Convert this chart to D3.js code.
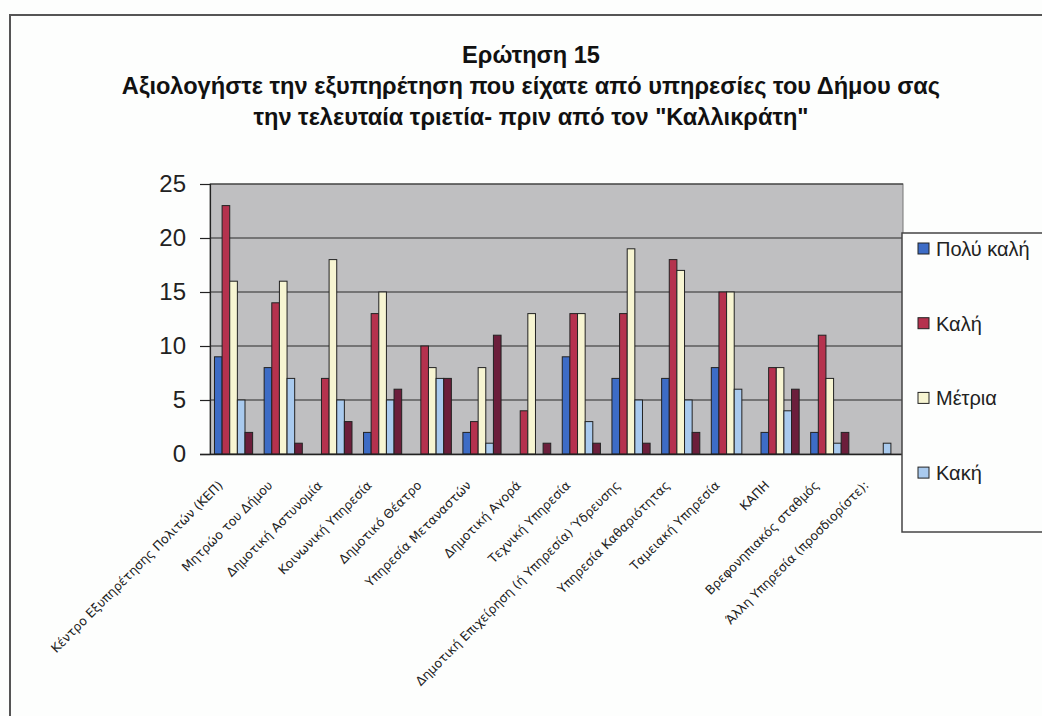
<!DOCTYPE html>
<html>
<head>
<meta charset="utf-8">
<script src="https://cdn.jsdelivr.net/npm/d3@7"></script>
<style>
  html, body { margin: 0; padding: 0; background: #fdfefd; }
  svg { display: block; }
</style>
</head>
<body>
<svg id="chart" width="1042" height="716"></svg>
<script>
const titleLines = [
  "Ερώτηση 15",
  "Αξιολογήστε την εξυπηρέτηση που είχατε από υπηρεσίες του Δήμου σας",
  "την τελευταία τριετία- πριν από τον \"Καλλικράτη\""
];
const categories = [
  "Κέντρο Εξυπηρέτησης Πολιτών (ΚΕΠ)",
  "Μητρώο του Δήμου",
  "Δημοτική Αστυνομία",
  "Κοινωνική Υπηρεσία",
  "Δημοτικό Θέατρο",
  "Υπηρεσία Μεταναστών",
  "Δημοτική Αγορά",
  "Τεχνική Υπηρεσία",
  "Δημοτική Επιχείρηση (ή Υπηρεσία) Ύδρευσης",
  "Υπηρεσία Καθαριότητας",
  "Ταμειακή Υπηρεσία",
  "ΚΑΠΗ",
  "Βρεφονηπιακός σταθμός",
  "Άλλη Υπηρεσία (προσδιορίστε):"
];
const seriesNames = ["Πολύ καλή", "Καλή", "Μέτρια", "Κακή", "Πολύ κακή"];
const polyKali  = [9, 8, 0, 2, 0, 2, 0, 9, 7, 7, 8, 2, 2, 0];
const kali      = [23, 14, 7, 13, 10, 3, 4, 13, 13, 18, 15, 8, 11, 0];
const metria    = [16, 16, 18, 15, 8, 8, 13, 13, 19, 17, 15, 8, 7, 0];
const kaki      = [5, 7, 5, 5, 7, 1, 0, 3, 5, 5, 6, 4, 1, 1];
const polyKaki  = [2, 1, 3, 6, 7, 11, 1, 1, 1, 2, 0, 6, 2, 0];
const yTicks = [0, 5, 10, 15, 20, 25];
const seriesValues = [polyKali, kali, metria, kaki, polyKaki];
const colors = ["#3d6cc6", "#b5324e", "#f7f5d2", "#a9caee", "#6c1e3b"];

const svg = d3.select("#chart");
const font = "'Liberation Sans', Arial, sans-serif";

// outer frame
svg.append("path")
  .attr("d", "M10,716 L10,15 L1042,15")
  .attr("fill", "none").attr("stroke", "#555").attr("stroke-width", 2);

// title
const tY = [63, 94, 125];
svg.append("g").selectAll("text").data(titleLines).join("text")
  .attr("x", 531).attr("y", (d, i) => tY[i])
  .attr("text-anchor", "middle")
  .attr("font-family", font).attr("font-weight", "bold")
  .attr("font-size", "23.6px").attr("fill", "#111")
  .text(d => d);

const plot = { left: 210, right: 903, top: 184, bottom: 454 };
const x = d3.scaleBand().domain(categories).range([plot.left, plot.right])
  .paddingInner(0.232).paddingOuter(0.09);
const xs = d3.scaleBand().domain(d3.range(seriesNames.length)).range([0, x.bandwidth()]);
const y = d3.scaleLinear().domain([0, 25]).range([plot.bottom, plot.top]);

// plot background
svg.append("rect")
  .attr("x", plot.left).attr("y", plot.top)
  .attr("width", plot.right - plot.left).attr("height", plot.bottom - plot.top)
  .attr("fill", "#bfbfc1").attr("stroke", "#777").attr("stroke-width", 1);

// gridlines
svg.append("g").selectAll("line").data(yTicks.filter(d => d > 0)).join("line")
  .attr("x1", plot.left).attr("x2", plot.right)
  .attr("y1", d => y(d)).attr("y2", d => y(d))
  .attr("stroke", "#2a2a2a").attr("stroke-width", 1.2);

// y axis
const yAxis = d3.axisLeft(y).tickValues(yTicks).tickSize(10).tickPadding(14).tickFormat(d3.format("d"));
const gy = svg.append("g").attr("transform", `translate(${plot.left},0)`).call(yAxis);
gy.select(".domain").attr("stroke", "#222").attr("stroke-width", 1.2);
gy.selectAll(".tick line").attr("stroke", "#222").attr("stroke-width", 1.2);
gy.selectAll(".tick text").attr("font-family", font).attr("font-size", "24px").attr("fill", "#222");

// bars
const groups = svg.append("g").selectAll("g").data(categories).join("g")
  .attr("transform", d => `translate(${x(d)},0)`);
groups.selectAll("rect")
  .data((c, ci) => seriesValues.map((vals, si) => ({ si, v: vals[ci] })))
  .join("rect")
  .filter(d => d.v > 0)
  .attr("x", d => xs(d.si)).attr("width", xs.bandwidth())
  .attr("y", d => y(d.v)).attr("height", d => y(0) - y(d.v))
  .attr("fill", d => colors[d.si]).attr("stroke", "#222").attr("stroke-width", 1);

// x axis
const xAxis = d3.axisBottom(x).tickSize(0).tickFormat(d => d);
const gx = svg.append("g").attr("transform", `translate(0,${plot.bottom})`).call(xAxis);
gx.select(".domain").attr("d", `M${plot.left - 10},0.5H${plot.right}`).attr("stroke", "#222").attr("stroke-width", 1.5);
gx.selectAll(".tick text")
  .attr("font-family", "'DejaVu Sans', Verdana, sans-serif").attr("font-size", "12.5px").attr("fill", "#222")
  .attr("text-anchor", "end")
  .attr("transform", "translate(-13,29) rotate(-45)")
  .attr("dy", "0.35em").attr("y", 0);

// legend
const lg = { x: 902, y: 233, w: 160, h: 299 };
svg.append("defs").append("clipPath").attr("id", "lgclip")
  .append("rect").attr("x", lg.x).attr("y", lg.y).attr("width", lg.w).attr("height", lg.h);
svg.append("rect").attr("x", lg.x).attr("y", lg.y).attr("width", lg.w).attr("height", lg.h)
  .attr("fill", "#fdfefd").attr("stroke", "#444").attr("stroke-width", 1.5);
const items = svg.append("g").attr("clip-path", "url(#lgclip)")
  .selectAll("g").data(seriesNames).join("g")
  .attr("transform", (d, i) => `translate(${lg.x + 16},${249 + i * 74.7})`);
items.append("rect").attr("x", 0).attr("y", -6).attr("width", 11).attr("height", 11)
  .attr("fill", (d, i) => colors[i]).attr("stroke", "#222").attr("stroke-width", 1);
items.append("text").attr("x", 18).attr("y", 7)
  .attr("font-family", font).attr("font-size", "20px").attr("fill", "#222")
  .text(d => d);
</script>
</body>
</html>
